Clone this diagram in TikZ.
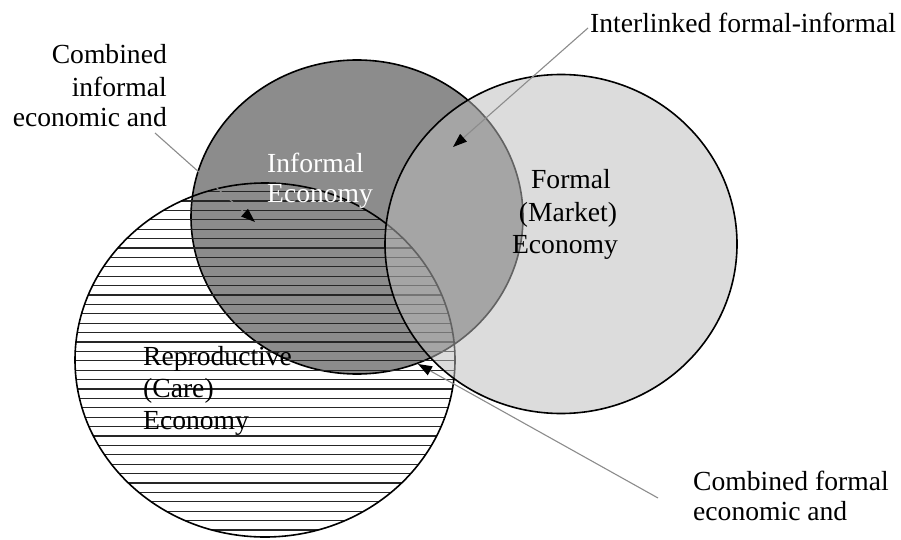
\documentclass[tikz,border=0pt]{standalone}
\usepackage{fontspec}
\setmainfont{Liberation Serif}
\usetikzlibrary{arrows.meta}
\definecolor{infgray}{RGB}{140,140,140}
\definecolor{formgray}{RGB}{188,188,188}
\definecolor{ptrgray}{RGB}{140,140,140}
\tikzset{
  lbl/.style={inner sep=0pt, font=\fontsize{27.6}{32}\selectfont},
  outline/.style={draw=black, line width=1.6pt},
  hatchline/.style={draw=black!85, line width=1.3pt},
  ptr/.style={draw=ptrgray, line width=1.1pt, -{Triangle[length=14pt,width=10pt,color=black]}}
}
\begin{document}
\begin{tikzpicture}[x=1pt,y=-1pt]
\useasboundingbox (0,0) rectangle (901,540);
\fill[white] (0,0) rectangle (901,540);
% Informal economy
\path[outline, fill=infgray] (357,217) ellipse [x radius=166pt, y radius=157pt];
% Reproductive economy (hatched)
\begin{scope}
  \clip (265,360) ellipse [x radius=190pt, y radius=177pt];
  \foreach \k in {-27,...,11} {
    \draw[hatchline] (60,436+9.4*\k) -- (470,436+9.4*\k);
  }
\end{scope}
\draw[outline] (265,360) ellipse [x radius=190pt, y radius=177pt];
% Formal economy
\path[fill=formgray, fill opacity=0.52] (561,244) ellipse [x radius=176pt, y radius=169.5pt];
\draw[outline] (561,244) ellipse [x radius=176pt, y radius=169.5pt];
% Circle labels
\node[lbl, text=white, anchor=base west] (inf1) at (267,172) {Informal};
\node[lbl, text=white, anchor=base west] (inf2) at (267,202) {Economy};
\node[lbl, anchor=base] (for1) at (571,189) {Formal};
\node[lbl, anchor=base] (for2) at (568,221) {(Market)};
\node[lbl, anchor=base] (for3) at (565,253) {Economy};
\node[lbl, anchor=base west] (rep1) at (143,365) {Reproductive};
\node[lbl, anchor=base west] (rep2) at (143,397) {(Care)};
\node[lbl, anchor=base west] (rep3) at (143,429) {Economy};
% Callout labels
\node[lbl, anchor=base east] (ci1) at (167,64) {Combined};
\node[lbl, anchor=base east] (ci2) at (167,97) {informal};
\node[lbl, anchor=base east] (ci3) at (167,127) {economic and};
\node[lbl, anchor=base west] (il) at (590,33) {Interlinked formal-informal};
\node[lbl, anchor=base west] (cf1) at (693,490) {Combined formal};
\node[lbl, anchor=base west] (cf2) at (693,520) {economic and};
% Pointers
\coordinate (p1s) at (155,133);
\coordinate (p1e) at (255,222);
\coordinate (p2s) at (588,28);
\coordinate (p2e) at (453,147);
\coordinate (p3s) at (658,498);
\coordinate (p3e) at (418,364);
\draw[ptr] (p1s) -- (p1e);
\draw[ptr] (p2s) -- (p2e);
\draw[ptr] (p3s) -- (p3e);
\end{tikzpicture}
\end{document}
